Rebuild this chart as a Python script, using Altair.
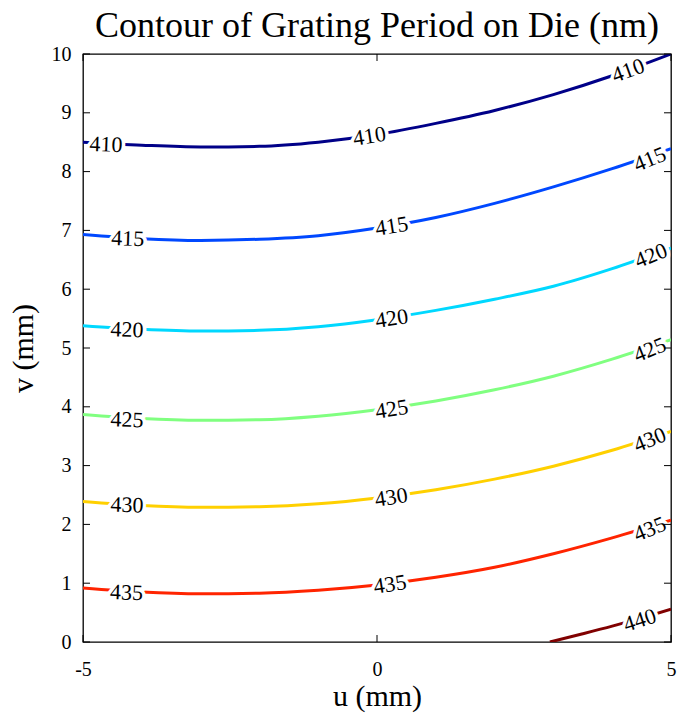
import altair as alt
import pandas as pd

# ---- data ----
title_text = "Contour of Grating Period on Die (nm)"
levels = ["410", "415", "420", "425", "430", "435", "440"]
colors = ["#000088", "#0048FF", "#00D8FF", "#80FF80", "#FFD000", "#FF2400", "#800000"]

u_grid = [-5, -4, -3, -2, -1, 0, 1, 2, 3, 4, 5]
v_410 = [8.50, 8.45, 8.42, 8.43, 8.50, 8.63, 8.82, 9.04, 9.31, 9.63, 10.00]
v_415 = [6.93, 6.86, 6.83, 6.85, 6.91, 7.04, 7.22, 7.46, 7.74, 8.05, 8.39]
v_420 = [5.38, 5.32, 5.29, 5.30, 5.36, 5.48, 5.64, 5.83, 6.05, 6.35, 6.70]
v_425 = [3.87, 3.80, 3.77, 3.78, 3.84, 3.95, 4.10, 4.29, 4.52, 4.81, 5.14]
v_430 = [2.39, 2.32, 2.29, 2.30, 2.35, 2.45, 2.59, 2.77, 2.99, 3.26, 3.58]
v_435 = [0.92, 0.85, 0.82, 0.83, 0.88, 0.97, 1.10, 1.27, 1.50, 1.77, 2.07]
u_440 = [2.94, 3.5, 4.0, 4.5, 5.0]
v_440 = [0.00, 0.14, 0.27, 0.41, 0.56]

label_level = ["410", "410", "410", "415", "415", "415", "420", "420", "420",
               "425", "425", "425", "430", "430", "430", "435", "435", "435", "440"]
label_u = [-4.61, -0.13, 4.27, -4.24, 0.25, 4.64, -4.25, 0.25, 4.66,
           -4.25, 0.25, 4.64, -4.25, 0.24, 4.64, -4.26, 0.22, 4.64, 4.47]
label_v = [8.46, 8.60, 9.72, 6.86, 7.07, 8.21, 5.31, 5.50, 6.57,
           3.78, 3.96, 4.97, 2.33, 2.46, 3.44, 0.84, 0.98, 1.92, 0.37]
label_angle = [2, 351, 340, 2, 351, 338, 2, 351, 338,
               2, 351, 338, 2, 351, 338, 2, 351, 338, 342]

x_ticks = [-5, 0, 5]
y_ticks = [0, 1, 2, 3, 4, 5, 6, 7, 8, 9, 10]

# ---- tables ----
rows = []
for lev, vs in zip(levels[:6], [v_410, v_415, v_420, v_425, v_430, v_435]):
    for i, (u, v) in enumerate(zip(u_grid, vs)):
        rows.append({"level": lev, "u": u, "v": v, "o": i})
for i, (u, v) in enumerate(zip(u_440, v_440)):
    rows.append({"level": "440", "u": u, "v": v, "o": i})
curves = pd.DataFrame(rows)

labels = pd.DataFrame({"level": label_level, "u": label_u, "v": label_v, "ang": label_angle})
xt = pd.DataFrame({"u": x_ticks})
yt = pd.DataFrame({"v": y_ticks})

W, H = 588, 588
FONT = "Liberation Serif, Times New Roman, serif"
xs = alt.Scale(domain=[-5, 5], nice=False, zero=False)
ys = alt.Scale(domain=[0, 10], nice=False, zero=False)

x_axis = alt.Axis(
    values=x_ticks, title="u (mm)", ticks=False, tickSize=0, domain=False, grid=False,
    labelExpr="'' + datum.value",
    labelFont=FONT, labelFontSize=20, labelColor="black", labelPadding=17, labelFlush=False,
    titleFont=FONT, titleFontSize=30, titleFontWeight="normal", titleColor="black",
    titleX=294, titleY=63, titleBaseline="alphabetic")
y_axis = alt.Axis(
    values=y_ticks, title="v (mm)", ticks=False, tickSize=0, domain=False, grid=False,
    labelExpr="'' + datum.value",
    labelFont=FONT, labelFontSize=20, labelColor="black", labelPadding=12, labelFlush=False,
    titleFont=FONT, titleFontSize=30, titleFontWeight="normal", titleColor="black",
    titleX=-51, titleY=294, titleBaseline="alphabetic", titleAngle=270)

X = alt.X("u:Q", scale=xs, axis=x_axis)
Y = alt.Y("v:Q", scale=ys, axis=y_axis)

lines = alt.Chart(curves).mark_line(strokeWidth=3, interpolate="monotone", clip=True).encode(
    x=X, y=Y,
    color=alt.Color("level:N", scale=alt.Scale(domain=levels, range=colors), legend=None),
    detail="level:N",
    order="o:Q",
)

halo = alt.Chart(labels).mark_text(font=FONT, fontSize=22, fill="white", stroke="white",
                                   strokeWidth=7, baseline="middle", align="center").encode(
    x=X, y=Y, text="level:N", angle=alt.Angle("ang:Q", scale=None),
)
text = alt.Chart(labels).mark_text(font=FONT, fontSize=22, color="black",
                                   baseline="middle", align="center").encode(
    x=X, y=Y, text="level:N", angle=alt.Angle("ang:Q", scale=None),
)

TL = 7
tick_b = alt.Chart(xt).mark_rule(color="black", strokeWidth=1).encode(
    x=X, y=alt.value(H), y2=alt.value(H - TL))
tick_t = alt.Chart(xt).mark_rule(color="black", strokeWidth=1).encode(
    x=X, y=alt.value(0), y2=alt.value(TL))
tick_l = alt.Chart(yt).mark_rule(color="black", strokeWidth=1).encode(
    y=Y, x=alt.value(0), x2=alt.value(TL))
tick_r = alt.Chart(yt).mark_rule(color="black", strokeWidth=1).encode(
    y=Y, x=alt.value(W), x2=alt.value(W - TL))

title = alt.Chart(pd.DataFrame({"t": [title_text]})).mark_text(
    font=FONT, fontSize=36, color="black", align="center", baseline="alphabetic").encode(
    text="t:N", x=alt.value(W / 2), y=alt.value(-17))

chart = alt.layer(lines, halo, text, tick_b, tick_t, tick_l, tick_r, title).properties(
    width=W, height=H,
    autosize=alt.AutoSizeParams(type="none"),
    padding={"left": 83, "top": 54, "right": 7, "bottom": 74},
    background="white",
).configure_view(stroke="black", strokeWidth=1.3)

chart.save("out.html", embed_options={"renderer": "svg", "actions": False})
